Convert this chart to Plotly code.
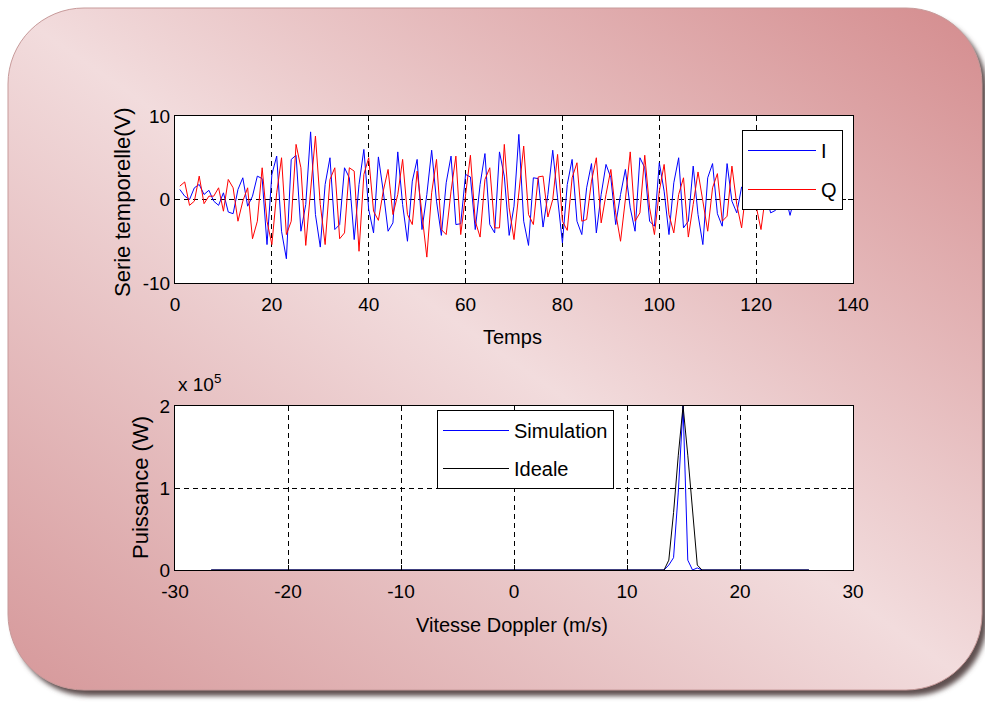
import base64
import plotly.graph_objects as go

# ---------------- data ----------------
temps = list(range(1, 129))

serie_I = [1.2, 0.4, 0.0, 1.4, 1.8, 0.6, 1.1, -0.2, -0.7, 0.8,
           -1.5, -1.7, 1.2, 2.6, -0.8, 0.4, 2.8, 2.5, -5.4, 3.0,
           5.2, -3.8, -7.1, 4.8, 5.3, -3.8, -0.6, 8.1, -1.8, -5.7,
           1.8, 5.0, -3.6, -3.0, 3.8, 2.6, -4.8, 1.8, 6.0, -1.2,
           -4.0, 5.1, 1.0, -3.8, -2.8, 5.7, -0.6, -5.0, 2.2, 4.8,
           -3.6, 0.6, 5.9, -0.2, -4.3, 2.0, 5.2, -3.0, -2.9, 3.0,
           2.7, -3.6, 1.8, 5.5, -3.0, -4.0, 5.7, 2.8, -4.3, -0.8,
           7.8, -2.6, -5.5, 2.6, 2.5, -3.3, 0.6, 5.9, 0.2, -5.2,
           1.8, 4.8, -2.6, -4.2, 1.4, 4.3, -4.0, 0.6, 4.2, 2.6,
           -3.0, 0.6, 3.6, -1.0, -3.8, 5.0, 3.8, -2.6, -3.2, 4.4,
           1.0, -4.2, 2.0, 5.0, -3.4, -2.6, 4.0, -1.8, -5.4, 2.6,
           4.3, -1.7, -3.2, 4.3, -0.2, -1.6, 1.5, 2.0, -1.0, -0.8,
           1.8, 0.5, -1.6, -1.3, 0.8, 0.5, -1.9, 0.4]

serie_Q = [1.6, 2.1, -0.7, -0.2, 2.8, -0.5, 0.4, 0.4, 1.4, -1.4,
           2.4, 1.4, -2.6, -0.2, 1.4, -4.7, -2.6, 3.8, -2.6, -5.4,
           0.8, 5.0, -4.2, -2.6, 6.6, 3.8, -5.5, 1.0, 7.6, -0.6,
           -5.4, 2.4, 3.8, -4.7, -4.0, 3.8, 3.4, -6.2, 3.0, 5.0,
           -1.4, -2.5, 1.0, 3.6, -1.8, 0.6, 4.8, -1.8, -3.0, 3.4,
           -1.5, -6.9, 0.8, 4.8, -3.6, -4.2, 1.0, 5.2, -4.2, 0.6,
           5.3, -2.6, -4.5, 2.4, 3.8, -3.4, -3.4, 6.6, -1.0, -4.8,
           1.0, 6.4, -1.8, -3.0, 2.7, 2.8, -2.1, 0.0, 5.4, -2.6,
           -3.7, 2.6, 4.4, -2.6, -2.4, 2.2, 5.0, -2.8, 0.6, 3.6,
           -1.6, -5.0, 0.0, 5.7, -2.6, -1.6, 5.3, -1.0, -4.2, 1.0,
           4.2, -1.8, -4.0, 0.6, 2.6, -4.5, -0.6, 3.3, -0.2, -3.8,
           1.4, 3.1, -2.6, -2.0, 4.0, -0.6, -3.4, 1.5, 2.0, -1.0,
           -3.6, 0.8, 1.2, -0.8, -0.5, 1.0, 0.2, -0.6]

vitesse_sim = [-26.8, 13.28, 13.70, 14.12, 14.54, 14.96, 15.38, 15.80, 16.22, 16.64, 26.1]
puissance_sim = [0, 0, 0.06e5, 0.15e5, 0.95e5, 2.0e5, 0.12e5, 0.0, 0.025e5, 0, 0]

vitesse_ideale = [-26.8, 13.28, 13.70, 14.12, 14.54, 14.96, 15.38, 15.80, 16.22, 16.64, 26.1]
puissance_ideale = [0, 0, 0.12e5, 0.7e5, 1.4e5, 2.0e5, 1.4e5, 0.7e5, 0.06e5, 0, 0]

ticks_temps = [0, 20, 40, 60, 80, 100, 120, 140]
ticks_serie = [-10, 0, 10]
labels_serie = ["-10", "0", "10"]
ticks_vitesse = [-30, -20, -10, 0, 10, 20, 30]
labels_vitesse = ["-30", "-20", "-10", "0", "10", "20", "30"]
ticks_puissance = [0, 1e5, 2e5]
labels_puissance = ["0", "1", "2"]

# ---------------- background (rounded gradient panel) ----------------
W, H = 985, 704
svg = f'''<svg xmlns="http://www.w3.org/2000/svg" width="{W}" height="{H}" viewBox="0 0 {W} {H}">
<defs>
<linearGradient id="g" x1="0" y1="1" x2="1" y2="0">
<stop offset="0" stop-color="#d6989a"/>
<stop offset="0.5" stop-color="#f2dcdd"/>
<stop offset="1" stop-color="#d48c8e"/>
</linearGradient>
<filter id="s" x="-5%" y="-5%" width="110%" height="110%"><feGaussianBlur stdDeviation="2.5"/></filter>
</defs>
<rect x="13" y="14" width="974" height="682" rx="76" ry="76" fill="#5e5050" filter="url(#s)"/>
<rect x="8" y="8" width="974" height="682" rx="76" ry="76" fill="url(#g)" stroke="#c79a9a" stroke-width="1"/>
</svg>'''
src = "data:image/svg+xml;base64," + base64.b64encode(svg.encode()).decode()

FONT = "Liberation Sans, Arial, sans-serif"

fig = go.Figure()
fig.add_trace(go.Scatter(x=temps, y=serie_I, mode="lines", name="I",
                         line=dict(color="#0000ff", width=1), xaxis="x", yaxis="y",
                         legend="legend", legendgroup="a"))
fig.add_trace(go.Scatter(x=temps, y=serie_Q, mode="lines", name="Q",
                         line=dict(color="#ff0000", width=1), xaxis="x", yaxis="y",
                         legend="legend", legendgroup="b"))
fig.add_trace(go.Scatter(x=vitesse_sim, y=puissance_sim, mode="lines", name="Simulation",
                         line=dict(color="#0000ff", width=1), xaxis="x2", yaxis="y2",
                         legend="legend2", legendgroup="c"))
fig.add_trace(go.Scatter(x=vitesse_ideale, y=puissance_ideale, mode="lines", name="Ideale",
                         line=dict(color="#000000", width=1), xaxis="x2", yaxis="y2",
                         legend="legend2", legendgroup="d"))

axis_common = dict(showgrid=True, gridcolor="black", gridwidth=1, griddash="5px,4px",
                   zeroline=False, showline=True, linecolor="black", linewidth=1,
                   mirror="ticks", ticks="inside", ticklen=5, tickcolor="black",
                   automargin=False,
                   tickfont=dict(family=FONT, size=19, color="black"))

XD = [175 / W, 853 / W]
ann = dict(xref="paper", yref="paper", showarrow=False, xanchor="center", yanchor="middle")
fig.update_layout(
    width=W, height=H,
    margin=dict(l=0, r=0, t=0, b=0, pad=0, autoexpand=False),
    paper_bgcolor="white", plot_bgcolor="white",
    font=dict(family=FONT, color="black"),
    xaxis=dict(domain=XD, anchor="y", range=[0, 140], tickvals=ticks_temps,
               ticklabelstandoff=4, **axis_common),
    yaxis=dict(domain=[1 - 283 / H, 1 - 116 / H], anchor="x", range=[-10, 10],
               tickvals=ticks_serie, ticktext=labels_serie, **axis_common),
    xaxis2=dict(domain=XD, anchor="y2", range=[-30, 30], tickvals=ticks_vitesse,
                ticktext=labels_vitesse, ticklabelstandoff=4, **axis_common),
    yaxis2=dict(domain=[1 - 570 / H, 1 - 406 / H], anchor="x2", range=[0, 2e5],
                tickvals=ticks_puissance, ticktext=labels_puissance, **axis_common),
    legend=dict(x=843 / W, y=1 - 130 / H, xanchor="right", yanchor="top",
                bgcolor="white", bordercolor="black", borderwidth=1,
                font=dict(family=FONT, size=20, color="black"), tracegroupgap=10,
                itemwidth=68),
    legend2=dict(x=437 / W, y=1 - 410 / H, xanchor="left", yanchor="top",
                 bgcolor="white", bordercolor="black", borderwidth=1,
                 font=dict(family=FONT, size=20, color="black"), tracegroupgap=9,
                 itemwidth=66),
    images=[dict(source=src, xref="paper", yref="paper", x=0, y=1, sizex=1, sizey=1,
                 xanchor="left", yanchor="top", sizing="stretch", layer="below")],
    shapes=[
        dict(type="rect", xref="x domain", yref="y domain", x0=0, x1=1, y0=0, y1=1,
             fillcolor="white", line=dict(width=0), layer="below"),
        dict(type="rect", xref="x2 domain", yref="y2 domain", x0=0, x1=1, y0=0, y1=1,
             fillcolor="white", line=dict(width=0), layer="below"),
    ],
    annotations=[
        dict(text="Temps", x=512 / W, y=1 - 337 / H, font=dict(size=20), **ann),
        dict(text="Vitesse Doppler (m/s)", x=512 / W, y=1 - 625 / H, font=dict(size=20), **ann),
        dict(text="Serie temporelle(V)", x=123 / W, y=1 - 202 / H, textangle=-90,
             font=dict(size=22), **ann),
        dict(text="Puissance (W)", x=140 / W, y=1 - 488 / H, textangle=-90,
             font=dict(size=22), **ann),
        dict(text="x 10<sup>5</sup>", x=176 / W, y=1 - 383 / H, xref="paper", yref="paper",
             xanchor="left", yanchor="middle", showarrow=False, font=dict(size=19)),
    ],
    showlegend=True,
)

fig.write_html("out.html")
